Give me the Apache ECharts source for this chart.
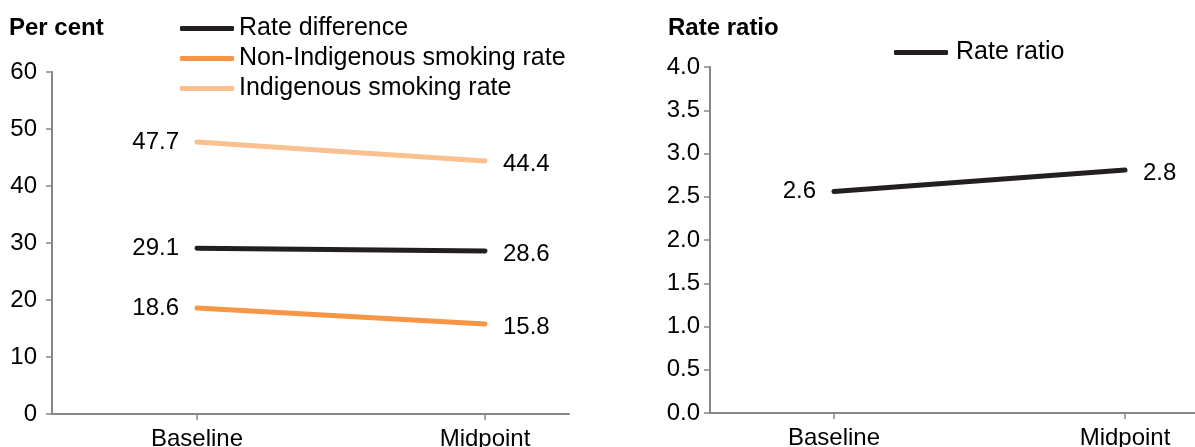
<!DOCTYPE html>
<html>
<head>
<meta charset="utf-8">
<script src="https://cdn.jsdelivr.net/npm/echarts@6/dist/echarts.min.js"></script>
<style>
  html, body { margin: 0; padding: 0; background: #fff; }
  #chart { width: 1195px; height: 447px; }
</style>
</head>
<body>
<div id="chart"></div>
<script>
// ---- data ----
var categories = ['Baseline', 'Midpoint'];
var rateDifference = [29.1, 28.6];
var nonIndigenousRate = [18.6, 15.8];
var indigenousRate = [47.7, 44.4];
var rateRatio = [2.56, 2.81];
var leftTicks = [0, 10, 20, 30, 40, 50, 60];
var rightTicks = [0, 0.5, 1, 1.5, 2, 2.5, 3, 3.5, 4];

var FONT = '"Liberation Sans", Arial, sans-serif';
var FS = 24;
var AXIS_GRAY = '#868686';
var BLACK_LINE = '#231f20';
var ORANGE = '#f79646';
var LIGHT_ORANGE = '#fac090';

function withLabels(values, digits) {
  return values.map(function (v, i) {
    return {
      value: v,
      label: {
        show: true,
        position: i === 0 ? 'left' : 'right',
        distance: 18,
        offset: i === 0 ? [0, 0] : [0, 3],
        formatter: function (p) { return Number(p.value).toFixed(digits); },
        fontSize: FS, fontFamily: FONT, color: '#000'
      }
    };
  });
}

function frameX(gridIndex) {
  return {
    type: 'category', gridIndex: gridIndex, data: [''],
    axisLine: { show: true, lineStyle: { color: AXIS_GRAY, width: 2 } },
    axisTick: { show: false }, axisLabel: { show: false }, splitLine: { show: false }
  };
}
function frameY(gridIndex, ticks, digits, margin) {
  return {
    type: 'value', gridIndex: gridIndex,
    min: ticks[0], max: ticks[ticks.length - 1], interval: ticks[1] - ticks[0],
    axisLine: { show: true, lineStyle: { color: AXIS_GRAY, width: 2 } },
    axisTick: { show: true, inside: false, length: 6, lineStyle: { color: AXIS_GRAY, width: 1.5 } },
    axisLabel: { fontSize: FS, fontFamily: FONT, color: '#000', margin: margin,
      formatter: function (v) { return Number(v).toFixed(digits); } },
    splitLine: { show: false }
  };
}
function dataX(gridIndex) {
  return {
    type: 'category', gridIndex: gridIndex, data: categories, boundaryGap: false,
    axisLine: { show: false },
    axisTick: { show: true, length: 6, lineStyle: { color: AXIS_GRAY, width: 1.5 } },
    axisLabel: { fontSize: FS, fontFamily: FONT, color: '#000', margin: 13 },
    splitLine: { show: false }
  };
}
function dataY(gridIndex, ticks) {
  return {
    type: 'value', gridIndex: gridIndex, min: ticks[0], max: ticks[ticks.length - 1],
    show: false
  };
}
function lineSeries(name, values, color, xi, yi, digits) {
  return {
    name: name, type: 'line', xAxisIndex: xi, yAxisIndex: yi,
    data: withLabels(values, digits),
    symbol: 'circle', symbolSize: 0, showSymbol: true, silent: true,
    lineStyle: { color: color, width: 5, cap: 'round' },
    itemStyle: { color: color },
    animation: false
  };
}

var chart = echarts.init(document.getElementById('chart'), null, { renderer: 'canvas' });
chart.setOption({
  animation: false,
  textStyle: { fontFamily: FONT },
  title: [
    { text: 'Per cent', left: 9, top: 16, padding: 0,
      textStyle: { fontSize: FS, fontWeight: 'bold', fontFamily: FONT, color: '#000' } },
    { text: 'Rate ratio', left: 668, top: 16, padding: 0,
      textStyle: { fontSize: FS, fontWeight: 'bold', fontFamily: FONT, color: '#000' } }
  ],
  legend: [
    { data: ['Rate difference', 'Non-Indigenous smoking rate', 'Indigenous smoking rate'],
      orient: 'vertical', left: 180, top: 16, padding: 0, itemGap: 5,
      itemWidth: 54, itemHeight: 5, icon: 'roundRect',
      textStyle: { fontSize: 25, fontFamily: FONT, color: '#000' } },
    { data: ['Rate ratio'], orient: 'vertical', left: 894, top: 40, padding: 0,
      itemWidth: 54, itemHeight: 5, icon: 'roundRect',
      textStyle: { fontSize: 25, fontFamily: FONT, color: '#000', padding: [0, 0, 0, 3] } }
  ],
  grid: [
    { left: 52, top: 72, width: 517, height: 342, outerBoundsMode: 'none', containLabel: false },
    { left: 197, top: 72, width: 288, height: 342, outerBoundsMode: 'none', containLabel: false },
    { left: 710, top: 67, width: 485, height: 346, outerBoundsMode: 'none', containLabel: false },
    { left: 834, top: 67, width: 291, height: 346, outerBoundsMode: 'none', containLabel: false }
  ],
  xAxis: [frameX(0), dataX(1), frameX(2), dataX(3)],
  yAxis: [frameY(0, leftTicks, 0, 15), dataY(1, leftTicks), frameY(2, rightTicks, 1, 10), dataY(3, rightTicks)],
  series: [
    lineSeries('Indigenous smoking rate', indigenousRate, LIGHT_ORANGE, 1, 1, 1),
    lineSeries('Non-Indigenous smoking rate', nonIndigenousRate, ORANGE, 1, 1, 1),
    lineSeries('Rate difference', rateDifference, BLACK_LINE, 1, 1, 1),
    lineSeries('Rate ratio', rateRatio, BLACK_LINE, 3, 3, 1)
  ]
});
</script>
</body>
</html>
